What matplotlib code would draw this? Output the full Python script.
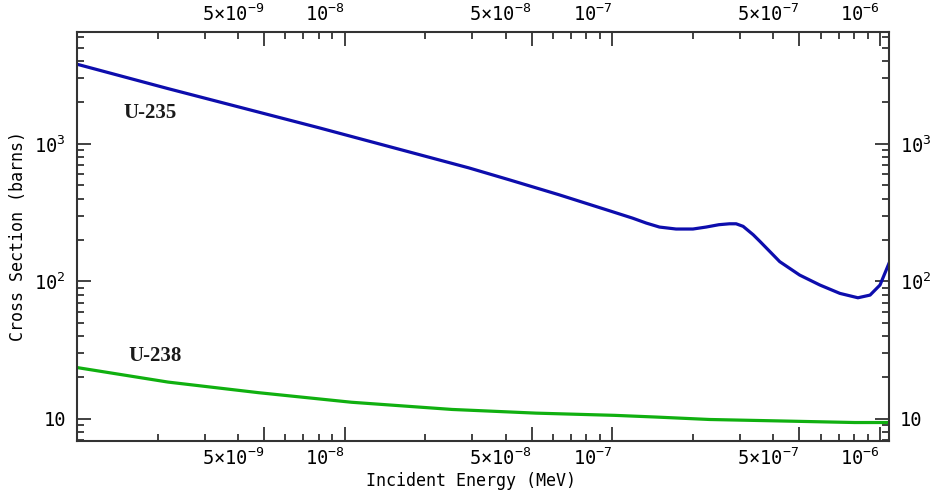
import matplotlib
matplotlib.use("Agg")
import matplotlib.pyplot as plt
from matplotlib.ticker import FixedLocator, FixedFormatter, LogLocator, NullFormatter

plt.rc('font', family='DejaVu Sans Mono', size=12)
plt.rc('mathtext', fontset='custom', rm='DejaVu Sans Mono', it='DejaVu Sans Mono', bf='DejaVu Sans Mono')

# values (energy in MeV, cross section in barns)
energy_u235 = [1.0e-9, 2.19e-9, 8.0e-9, 2.91e-8, 4.11e-8, 6.32e-8, 9.75e-8, 1.19e-7,
               1.34e-7, 1.50e-7, 1.73e-7, 2.0e-7, 2.24e-7, 2.5e-7, 2.74e-7, 2.9e-7,
               3.08e-7, 3.36e-7, 3.56e-7, 4.22e-7, 5.01e-7, 5.96e-7, 7.08e-7,
               8.27e-7, 9.18e-7, 1.0e-6, 1.08e-6]
xs_u235 = [3790, 2518, 1309, 668, 548, 426, 326, 288,
           265, 248, 240, 240, 248, 258, 262, 262,
           251, 218, 195, 139, 111, 94, 81.7,
           75.9, 79.4, 94, 135]

energy_u238 = [1.0e-9, 2.19e-9, 4.76e-9, 1.06e-8, 2.52e-8, 5.19e-8, 1.02e-7, 1.46e-7,
               2.31e-7, 4.04e-7, 8.05e-7, 1.08e-6]
xs_u238 = [23.6, 18.5, 15.5, 13.2, 11.7, 11.0, 10.6, 10.3,
           9.89, 9.67, 9.40, 9.40]

x_ticks = [5e-9, 1e-8, 5e-8, 1e-7, 5e-7, 1e-6]
x_labels = [r'$5{\times}10^{-9}$', r'$10^{-8}$', r'$5{\times}10^{-8}$',
            r'$10^{-7}$', r'$5{\times}10^{-7}$', r'$10^{-6}$']
y_ticks = [10, 100, 1000]
y_labels = ['10', r'$10^{2}$', r'$10^{3}$']

fig = plt.figure(figsize=(9.33, 4.96), dpi=100)
ax = fig.add_axes([0.0825, 0.1109, 0.8703, 0.8246])

ax.plot(energy_u235, xs_u235, color='#0d0dad', linewidth=2.3)
ax.plot(energy_u238, xs_u238, color='#10b010', linewidth=2.3)

ax.set_xscale('log')
ax.set_yscale('log')
ax.set_xlim(1e-9, 1.08e-6)
ax.set_ylim(6.9, 6.5e3)

ax.xaxis.set_major_locator(FixedLocator(x_ticks))
ax.xaxis.set_major_formatter(FixedFormatter(x_labels))
ax.xaxis.set_minor_locator(LogLocator(base=10, subs=(2, 3, 4, 6, 7, 8, 9), numticks=20))
ax.xaxis.set_minor_formatter(NullFormatter())
ax.yaxis.set_major_locator(FixedLocator(y_ticks))
ax.yaxis.set_major_formatter(FixedFormatter(y_labels))
ax.yaxis.set_minor_locator(LogLocator(base=10, subs=range(2, 10), numticks=20))
ax.yaxis.set_minor_formatter(NullFormatter())

ax.tick_params(which='both', direction='in', top=True, right=True,
               labeltop=True, labelright=True, color='#333333', width=1.3)
ax.tick_params(which='major', length=10, labelsize=13.5)
ax.tick_params(axis='x', which='major', pad=5)
ax.tick_params(axis='y', which='major', pad=8)
ax.tick_params(which='minor', length=5)
# tick labels end right at the tick, like the original
for t in ax.xaxis.get_major_ticks():
    t.label1.set_horizontalalignment('right')
    t.label2.set_horizontalalignment('right')

for s in ax.spines.values():
    s.set_color('#333333')
    s.set_linewidth(1.5)

ax.set_xlabel('Incident Energy (MeV)', fontsize=12)
ax.xaxis.set_label_coords(0.485, -0.076)
ax.set_ylabel('Cross Section (barns)', fontsize=12)
ax.yaxis.set_label_coords(-0.062, 0.5)

ax.text(1.87e-9, 1663, 'U-235', fontfamily='Liberation Serif', fontweight='bold',
        fontsize=15, color='#1a1a1a', ha='center', va='center')
ax.text(1.96e-9, 28.5, 'U-238', fontfamily='Liberation Serif', fontweight='bold',
        fontsize=15, color='#1a1a1a', ha='center', va='center')

fig.savefig('out.png', dpi=100)
